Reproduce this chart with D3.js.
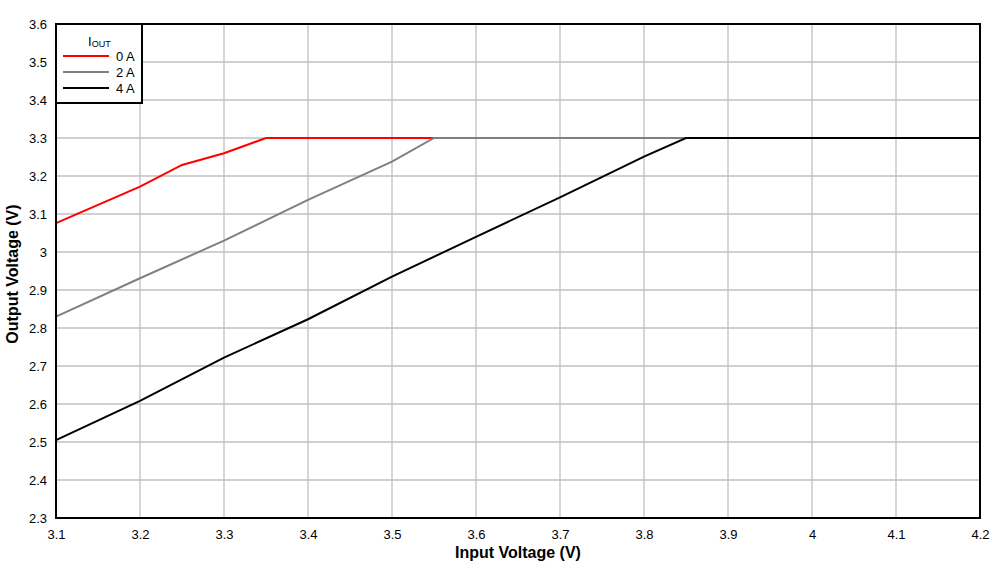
<!DOCTYPE html>
<html>
<head>
<meta charset="utf-8">
<script src="https://cdn.jsdelivr.net/npm/d3@7"></script>
<style>
  body { margin: 0; background: #fff; }
  text { font-family: "Liberation Sans", Arial, sans-serif; }
</style>
</head>
<body>
<svg id="chart" width="1006" height="570"></svg>
<script>
// ── data ────────────────────────────────────────────────────
const xTicks = [3.1, 3.2, 3.3, 3.4, 3.5, 3.6, 3.7, 3.8, 3.9, 4.0, 4.1, 4.2];
const yTicks = [2.3, 2.4, 2.5, 2.6, 2.7, 2.8, 2.9, 3.0, 3.1, 3.2, 3.3, 3.4, 3.5, 3.6];

const vin0A = [3.1, 3.2, 3.25, 3.3, 3.35, 4.2];
const vout0A = [3.076, 3.172, 3.229, 3.26, 3.3, 3.3];

const vin2A = [3.1, 3.2, 3.3, 3.4, 3.5, 3.55, 4.2];
const vout2A = [2.830, 2.931, 3.030, 3.137, 3.238, 3.3, 3.3];

const vin4A = [3.1, 3.2, 3.3, 3.4, 3.5, 3.6, 3.7, 3.8, 3.85, 4.2];
const vout4A = [2.505, 2.608, 2.722, 2.823, 2.935, 3.040, 3.144, 3.251, 3.3, 3.3];

const seriesNames = ['0 A', '2 A', '4 A'];
const seriesColors = ['#ff0000', '#808080', '#000000'];

const series = [
  { name: seriesNames[0], color: seriesColors[0], pts: vin0A.map((v, i) => [v, vout0A[i]]) },
  { name: seriesNames[1], color: seriesColors[1], pts: vin2A.map((v, i) => [v, vout2A[i]]) },
  { name: seriesNames[2], color: seriesColors[2], pts: vin4A.map((v, i) => [v, vout4A[i]]) },
];

// ── layout ──────────────────────────────────────────────────
const svg = d3.select('#chart');
const L = 56, R = 980, T = 24, B = 518;

const x = d3.scaleLinear().domain([3.1, 4.2]).range([L, R]);
const y = d3.scaleLinear().domain([2.3, 3.6]).range([B, T]);

// Grid
const grid = svg.append('g');
grid.selectAll('.gx').data(xTicks).enter().append('line')
  .attr('x1', d => x(d)).attr('x2', d => x(d))
  .attr('y1', T).attr('y2', B)
  .attr('stroke', '#c0c0c0').attr('stroke-width', 1.3);
grid.selectAll('.gy').data(yTicks).enter().append('line')
  .attr('x1', L).attr('x2', R)
  .attr('y1', d => y(d)).attr('y2', d => y(d))
  .attr('stroke', '#c0c0c0').attr('stroke-width', 1.3);

// Axes (labels only, lines drawn by the frame)
const fmt = d => d3.format('~g')(d);
const xAxis = svg.append('g').attr('transform', `translate(0,${B})`)
  .call(d3.axisBottom(x).tickValues(xTicks).tickSize(0).tickPadding(12).tickFormat(fmt));
const yAxis = svg.append('g').attr('transform', `translate(${L},0)`)
  .call(d3.axisLeft(y).tickValues(yTicks).tickSize(0).tickPadding(9).tickFormat(fmt));
[xAxis, yAxis].forEach(a => {
  a.select('.domain').remove();
  a.selectAll('text').attr('font-size', 13).attr('fill', '#000')
    .style('font-family', '"Liberation Sans", Arial, sans-serif');
});

// Lines
const line = d3.line().x(d => x(d[0])).y(d => y(d[1]));
svg.append('g').selectAll('path').data(series).enter().append('path')
  .attr('d', d => line(d.pts))
  .attr('fill', 'none')
  .attr('stroke', d => d.color)
  .attr('stroke-width', 2);

// Frame
svg.append('rect')
  .attr('x', L).attr('y', T).attr('width', R - L).attr('height', B - T)
  .attr('fill', 'none').attr('stroke', '#000').attr('stroke-width', 2);

// Axis titles
svg.append('text')
  .attr('x', 518).attr('y', 558)
  .attr('text-anchor', 'middle')
  .attr('font-size', 16).attr('font-weight', 'bold')
  .text('Input Voltage (V)');
svg.append('text')
  .attr('transform', `translate(18,274) rotate(-90)`)
  .attr('text-anchor', 'middle')
  .attr('font-size', 16).attr('font-weight', 'bold')
  .text('Output Voltage (V)');

// Legend
const lg = svg.append('g');
lg.append('rect')
  .attr('x', L).attr('y', T).attr('width', 86).attr('height', 79)
  .attr('fill', '#fff').attr('stroke', '#000').attr('stroke-width', 2);
const title = lg.append('text').attr('x', 88).attr('y', 46).attr('font-size', 13);
title.append('tspan').text('I');
title.append('tspan').attr('font-size', 9).attr('dy', 1).text('OUT');
series.forEach((s, i) => {
  const yy = 56 + i * 16;
  lg.append('line')
    .attr('x1', 63).attr('x2', 109).attr('y1', yy).attr('y2', yy)
    .attr('stroke', s.color).attr('stroke-width', 2);
  lg.append('text')
    .attr('x', 116).attr('y', yy + 5)
    .attr('font-size', 13)
    .text(s.name);
});
</script>
</body>
</html>
